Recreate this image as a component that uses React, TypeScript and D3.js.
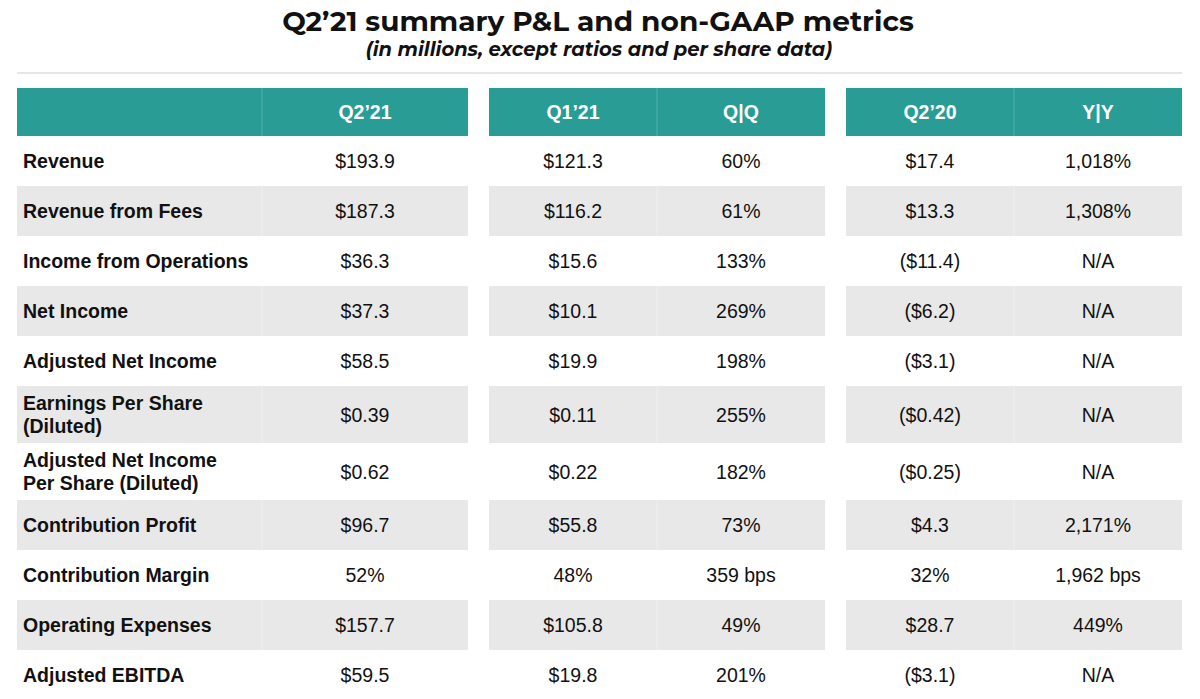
import React from "react";
import * as d3 from "d3";

const metrics = [
  "Revenue",
  "Revenue from Fees",
  "Income from Operations",
  "Net Income",
  "Adjusted Net Income",
  "Earnings Per Share|(Diluted)",
  "Adjusted Net Income|Per Share (Diluted)",
  "Contribution Profit",
  "Contribution Margin",
  "Operating Expenses",
  "Adjusted EBITDA",
];
const q221 = ["$193.9", "$187.3", "$36.3", "$37.3", "$58.5", "$0.39", "$0.62", "$96.7", "52%", "$157.7", "$59.5"];
const q121 = ["$121.3", "$116.2", "$15.6", "$10.1", "$19.9", "$0.11", "$0.22", "$55.8", "48%", "$105.8", "$19.8"];
const qq = ["60%", "61%", "133%", "269%", "198%", "255%", "182%", "73%", "359 bps", "49%", "201%"];
const q220 = ["$17.4", "$13.3", "($11.4)", "($6.2)", "($3.1)", "($0.42)", "($0.25)", "$4.3", "32%", "$28.7", "($3.1)"];
const yy = ["1,018%", "1,308%", "N/A", "N/A", "N/A", "N/A", "N/A", "2,171%", "1,962 bps", "449%", "N/A"];
const headers = ["", "Q2\u201921", "Q1\u201921", "Q|Q", "Q2\u201920", "Y|Y"];

const W = 1200;
const H = 699;
const TEAL = "#2a9c96";
const GRAY = "#e8e8e8";
const FONT = "'Liberation Sans', Arial, Helvetica, sans-serif";
const FS = 19.5;

// column boundaries [x0, x1]
const columns: [number, number][] = [
  [17, 262],
  [262, 468],
  [489, 657],
  [657, 825],
  [846, 1014],
  [1014, 1182],
];
const blocks: [number, number][] = [
  [17, 468],
  [489, 825],
  [846, 1182],
];

export default function App() {
  const headerTop = 88;
  const headerH = 48;
  const lines = metrics.map((m) => m.split("|"));
  const heights = lines.map((l) => (l.length > 1 ? 57 : 50));
  const tops: number[] = [];
  let acc = headerTop + headerH;
  heights.forEach((h) => {
    tops.push(acc);
    acc += h;
  });
  const values = [q221, q121, qq, q220, yy];

  const x = d3.scaleLinear().domain([0, W]).range([0, W]);

  return (
    <svg width={W} height={H} style={{ position: "absolute", left: 0, top: 0, background: "#fff" }}>
      <rect x={0} y={0} width={W} height={H} fill="#fff" />
      <text x={598} y={31} textAnchor="middle" fontFamily="Montserrat, 'Open Sans', sans-serif" fontWeight={700} fontSize={28} fill="#111">
        Q2’21 summary P&amp;L and non-GAAP metrics
      </text>
      <text x={599} y={56} textAnchor="middle" fontFamily="Montserrat, 'Open Sans', sans-serif" fontWeight={700} fontStyle="italic" fontSize={19.5} fill="#111">
        (in millions, except ratios and per share data)
      </text>
      <line x1={17} x2={1182} y1={73} y2={73} stroke="#e6e6e6" strokeWidth={2} />

      {/* header */}
      {blocks.map(([a, b], i) => (
        <rect key={"hb" + i} x={x(a)} y={headerTop} width={x(b) - x(a)} height={headerH} fill={TEAL} />
      ))}
      {[262, 657, 1014].map((cx, i) => (
        <line key={"hd" + i} x1={x(cx)} x2={x(cx)} y1={headerTop} y2={headerTop + headerH} stroke="#4fb0aa" strokeWidth={1} />
      ))}
      {headers.map((h, i) => (
        <text
          key={"h" + i}
          x={(x(columns[i][0]) + x(columns[i][1])) / 2}
          y={headerTop + headerH / 2 + 7}
          textAnchor="middle"
          fontFamily={FONT}
          fontWeight={700}
          fontSize={FS}
          fill="#fff"
        >
          {h}
        </text>
      ))}

      {/* rows */}
      {metrics.map((m, r) => (
        <g key={"r" + r}>
          {r % 2 === 1 &&
            blocks.map(([a, b], i) => (
              <rect key={"bg" + i} x={x(a)} y={tops[r]} width={x(b) - x(a)} height={heights[r]} fill={GRAY} />
            ))}
          {r % 2 === 1 &&
            [262, 657, 1014].map((cx, i) => (
              <line key={"gd" + i} x1={x(cx)} x2={x(cx)} y1={tops[r]} y2={tops[r] + heights[r]} stroke="#f0f0f0" strokeWidth={1} />
            ))}
          {lines[r].map((ln, li) => (
            <text
              key={"l" + li}
              x={x(23)}
              y={tops[r] + heights[r] / 2 + 7 + (lines[r].length > 1 ? (li - 0.5) * 23.5 : 0)}
              fontFamily={FONT}
              fontWeight={700}
              fontSize={FS}
              fill="#111"
            >
              {ln}
            </text>
          ))}
          {values.map((vals, c) => (
            <text
              key={"v" + c}
              x={(x(columns[c + 1][0]) + x(columns[c + 1][1])) / 2}
              y={tops[r] + heights[r] / 2 + 7}
              textAnchor="middle"
              fontFamily={FONT}
              fontSize={FS}
              fill="#111"
            >
              {vals[r]}
            </text>
          ))}
        </g>
      ))}
    </svg>
  );
}
